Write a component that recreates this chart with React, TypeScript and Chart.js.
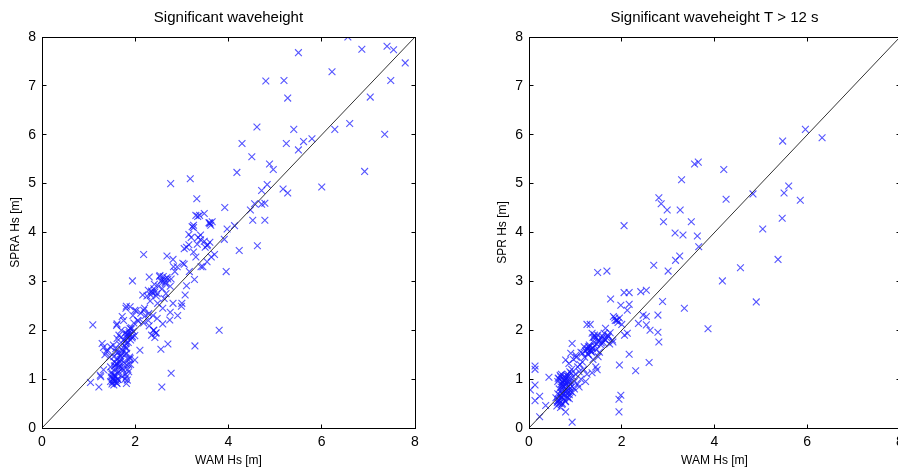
import React, { useEffect, useRef } from "react";
import { Chart, registerables } from "chart.js";

Chart.register(...registerables);

const FONT = "'Liberation Sans', Arial, Helvetica, sans-serif";

const leftTitle = "Significant waveheight";
const rightTitle = "Significant waveheight T > 12 s";
const xAxisLabel = "WAM Hs [m]";
const leftYAxisLabel = "SPRA Hs [m]";
const rightYAxisLabel = "SPR Hs [m]";

const xTickValues = [0, 2, 4, 6, 8];
const yTickValues = [0, 1, 2, 3, 4, 5, 6, 7, 8];
const diagonalValues = [0, 8];

// Left panel: WAM Hs (x) vs SPRA Hs (y)
const leftWam = [
  6.56, 5.5, 6.86, 7.4, 7.54, 7.79, 6.22, 4.8, 5.19, 7.48, 5.27, 7.04, 4.61, 6.6, 5.4, 6.28, 7.35, 4.29, 5.24, 5.61,
  5.79, 5.5, 4.5, 4.88, 4.96, 4.18, 6.92, 3.18, 2.76, 4.83, 6.0, 4.71, 5.17, 5.27, 3.32, 3.92, 4.56, 4.78, 4.71, 4.47,
  3.48, 3.34, 3.25, 3.6, 3.65, 4.52, 4.78, 4.13, 3.97, 3.15, 3.4, 3.91, 3.48, 3.6, 3.05, 4.23, 4.62, 3.33, 3.54, 2.68,
  3.3, 3.63, 2.81, 2.18, 3.54, 3.02, 2.82, 3.41, 3.95, 3.16, 1.94, 2.3, 2.53, 2.63, 2.77, 3.27, 3.1, 2.41, 2.16, 2.36,
  2.47, 2.66, 3.07, 2.28, 2.81, 3.0, 2.99, 1.81, 1.89, 2.59, 1.99, 2.18, 2.29, 2.75, 2.91, 1.72, 2.47, 2.74, 2.07, 2.18,
  2.59, 1.09, 2.3, 1.61, 1.89, 2.39, 3.8, 2.44, 1.82, 1.94, 1.99, 2.42, 1.61, 1.8, 1.29, 2.1, 2.55, 2.7, 3.28, 1.32,
  1.47, 1.39, 1.59, 1.82, 1.54, 1.68, 1.89, 1.99, 1.61, 1.82, 1.47, 1.72, 1.32, 1.86, 2.77, 1.25, 1.54, 1.81, 1.26, 1.54,
  1.04, 1.61, 1.81, 1.22, 2.57, 1.54, 1.47,
  1.5, 1.52, 1.55, 1.58, 1.5, 1.62, 1.65, 1.57, 1.6, 1.7, 1.75, 1.68, 1.78, 1.63, 1.72, 1.8, 1.85, 1.76, 1.82, 1.88,
  1.9, 1.86, 1.92, 1.7, 1.65, 1.6, 1.75, 1.8, 1.95, 2.02, 2.05, 1.97, 1.84, 1.79, 1.83, 1.78, 1.56, 1.45, 1.4, 1.35,
  1.53, 1.66, 1.48, 1.6, 1.85, 1.9, 1.72, 1.58,
  1.51, 1.53, 1.56, 1.59, 1.62, 1.64, 1.67, 1.69, 1.73, 1.77, 1.8, 1.83, 1.87, 1.91, 1.84, 1.81, 1.86, 1.88, 1.93, 1.96,
  1.55, 1.61, 1.66, 1.71, 1.74, 1.79, 1.49, 1.57, 1.63, 1.69,
  2.25, 2.35, 2.4, 2.5, 2.55, 2.6, 2.65, 2.7, 2.58, 2.45, 2.62, 2.75, 2.52, 2.32, 2.2, 2.38, 2.48, 2.28, 2.4, 2.45,
  2.35, 2.12, 2.22, 2.56, 2.64, 2.68, 2.42, 2.33,
  3.2, 3.25, 3.3, 3.38, 3.6, 3.62, 3.55, 3.5, 3.4, 3.1, 3.15, 3.25, 3.45, 3.7, 3.35, 3.05, 2.9, 2.85, 3.58, 3.22,
];
const leftSpra = [
  8.0, 7.68, 7.75, 7.81, 7.74, 7.47, 7.29, 7.1, 7.11, 7.11, 6.75, 6.77, 6.16, 6.23, 6.11, 6.11, 6.01, 5.82, 5.82, 5.86,
  5.92, 5.69, 5.55, 5.4, 5.29, 5.23, 5.25, 5.1, 5.0, 4.98, 4.93, 4.86, 4.89, 4.81, 4.69, 4.51, 4.59, 4.6, 4.58, 4.46,
  4.39, 4.33, 4.15, 4.2, 4.22, 4.25, 4.25, 4.14, 4.07, 3.96, 3.95, 3.86, 3.82, 3.8, 3.67, 3.63, 3.73, 3.76, 3.73, 3.52,
  3.5, 3.5, 3.45, 3.55, 3.4, 3.37, 3.3, 3.3, 3.2, 3.2, 3.01, 3.09, 3.12, 3.04, 3.05, 3.04, 2.91, 2.94, 2.72, 2.77,
  2.75, 2.75, 2.72, 2.82, 2.55, 2.55, 2.49, 2.49, 2.48, 2.45, 2.41, 2.41, 2.34, 2.37, 2.3, 2.28, 2.24, 2.21, 2.19, 2.15,
  2.13, 2.11, 2.09, 2.13, 2.04, 2.0, 2.0, 1.94, 1.91, 1.87, 1.89, 1.85, 1.83, 1.73, 1.73, 1.59, 1.61, 1.72, 1.68, 1.65,
  1.66, 1.56, 1.56, 1.53, 1.46, 1.46, 1.42, 1.39, 1.32, 1.29, 1.25, 1.22, 1.19, 1.15, 1.12, 1.08, 1.08, 1.05, 1.05, 0.98,
  0.93, 0.91, 0.91, 0.84, 0.84, 0.88, 0.95,
  0.9, 1.0, 0.95, 1.05, 1.1, 1.0, 1.15, 1.2, 1.3, 1.25, 1.35, 1.4, 1.5, 1.55, 1.6, 1.65, 1.75, 1.8, 1.85, 1.9,
  1.8, 2.0, 2.05, 2.0, 1.9, 2.1, 2.2, 2.45, 2.3, 2.4, 2.2, 2.15, 1.2, 1.1, 0.98, 1.0, 1.35, 1.45, 1.6, 1.5,
  1.7, 1.72, 1.05, 0.92, 1.4, 1.3, 1.05, 1.62,
  0.94, 1.02, 1.08, 0.97, 1.12, 1.24, 1.36, 1.48, 1.58, 1.68, 1.78, 1.88, 1.95, 2.02, 1.92, 1.62, 1.3, 1.45, 1.84, 1.98,
  1.27, 1.42, 1.33, 1.52, 1.18, 1.95, 1.14, 1.28, 0.99, 1.85,
  2.7, 2.8, 2.85, 2.9, 3.0, 3.1, 2.95, 3.05, 2.85, 2.7, 2.65, 2.9, 3.1, 2.6, 2.45, 2.3, 2.55, 2.2, 2.0, 1.95,
  1.9, 2.35, 2.3, 3.02, 2.98, 3.08, 2.78, 2.72,
  3.9, 4.1, 4.35, 4.35, 4.18, 4.15, 3.75, 3.7, 3.85, 3.7, 3.75, 3.6, 3.3, 3.55, 3.9, 3.35, 3.3, 3.2, 4.2, 4.12,
];

// Right panel: WAM Hs (x) vs SPR Hs (y), T > 12 s
const rightWam = [
  5.96, 5.47, 6.32, 3.57, 3.65, 4.2, 3.29, 2.8, 4.83, 5.6, 5.5, 2.85, 2.98, 3.26, 4.25, 5.85, 2.05, 2.9, 3.5, 5.46,
  5.04, 3.15, 3.32, 3.63, 3.66, 3.25, 3.16, 5.37, 2.69, 4.56, 3.0, 1.48, 1.68, 4.17, 1.76, 2.88, 4.9, 3.35, 2.05, 2.16,
  2.41, 2.53, 2.16, 2.12, 1.98, 2.46, 2.53, 2.78, 1.82, 1.89, 2.36, 2.53, 2.78, 2.61, 3.86, 2.8, 2.06, 2.12, 2.16, 2.59,
  1.95, 2.3, 1.98, 1.94, 1.94, 0.13, 0.13, 0.13, 0.13, 0.03, 0.23, 0.43, 0.36, 0.23, 0.93, 0.79, 1.25, 1.32, 1.36, 1.38,
  1.41, 1.57, 1.62, 1.65, 1.71, 1.8, 1.81, 1.28, 1.31, 1.36, 1.19, 1.15, 1.49, 1.44, 1.47, 1.36, 1.22, 1.08, 0.93, 1.01,
  0.9, 0.86, 0.79,
  0.6, 0.62, 0.65, 0.68, 0.7, 0.72, 0.75, 0.78, 0.8, 0.82, 0.85, 0.88, 0.9, 0.7, 0.65, 0.68, 0.72, 0.75, 0.8, 0.84,
  0.88, 0.92, 0.95, 0.98, 0.65, 0.62, 0.58, 0.75, 0.78, 0.83, 0.87, 0.93, 1.0, 1.05, 1.1, 1.02, 0.96, 0.72, 0.68, 0.8,
  0.76, 0.7, 0.62, 0.85, 0.9, 1.08, 1.15, 1.2, 1.12, 1.25, 1.3, 1.35, 1.28, 1.4, 1.45, 1.5, 1.55, 1.6, 1.65, 1.7,
  1.75, 1.9, 1.95, 1.85, 1.45, 1.52, 1.38, 1.18, 1.05, 0.98, 1.12, 1.25,
  0.61, 0.64, 0.67, 0.69, 0.71, 0.73, 0.74, 0.77, 0.79, 0.81, 0.83, 0.86, 0.89, 0.66, 0.7, 0.74, 0.78, 0.82, 0.86, 0.63,
  0.69, 0.76, 0.84, 0.91, 0.94, 0.71, 0.79, 0.87, 0.67, 0.73,
  1.22, 1.26, 1.3, 1.33, 1.37, 1.42, 1.46, 1.5, 1.56, 1.62, 1.27, 1.34, 1.41, 1.48, 1.58, 1.68, 1.74, 1.86, 1.92, 2.0,
];
const rightSpr = [
  6.11, 5.87, 5.94, 5.4, 5.44, 5.29, 5.08, 4.71, 4.79, 4.95, 4.81, 4.59, 4.46, 4.46, 4.68, 4.66, 4.14, 4.22, 4.22, 4.29,
  4.07, 3.99, 3.95, 3.93, 3.71, 3.52, 3.43, 3.45, 3.33, 3.28, 3.21, 3.18, 3.21, 3.01, 2.64, 2.59, 2.58, 2.45, 2.77, 2.77,
  2.79, 2.82, 2.53, 2.41, 2.51, 2.31, 2.28, 2.31, 2.28, 2.21, 2.14, 2.11, 1.96, 2.0, 2.03, 1.76, 1.9, 1.94, 1.51, 1.34,
  1.29, 1.17, 0.67, 0.59, 0.33, 1.27, 1.2, 0.88, 0.56, 0.78, 0.65, 1.04, 0.46, 0.23, 0.12, 0.33, 2.12, 2.12, 1.94, 1.85,
  1.9, 1.83, 1.94, 2.04, 1.87, 1.8, 1.76, 1.66, 1.59, 1.63, 1.66, 1.53, 1.46, 1.25, 1.19, 1.13, 0.95, 0.84, 1.73, 1.49,
  1.53, 1.32, 1.39,
  0.45, 0.55, 0.5, 0.6, 0.65, 0.7, 0.6, 0.75, 0.8, 0.7, 0.85, 0.9, 0.75, 0.9, 1.0, 1.05, 0.95, 1.05, 1.0, 1.1,
  1.15, 1.2, 1.05, 0.95, 0.8, 0.7, 0.62, 0.85, 0.55, 0.62, 0.68, 0.85, 1.1, 1.25, 1.3, 1.45, 1.4, 0.5, 0.42, 0.92,
  0.98, 1.1, 0.95, 1.0, 0.95, 1.15, 1.35, 1.45, 1.55, 1.6, 1.7, 1.55, 1.5, 1.75, 1.85, 1.8, 1.7, 1.75, 1.8, 1.9,
  1.95, 2.2, 2.25, 2.25, 1.6, 1.55, 1.4, 1.2, 0.9, 0.8, 1.0, 1.1,
  0.52, 0.58, 0.66, 0.72, 0.78, 0.84, 0.92, 0.98, 1.04, 1.08, 0.64, 0.74, 0.82, 0.56, 0.62, 0.68, 0.88, 0.76, 0.94, 1.02,
  0.84, 0.96, 1.06, 1.12, 0.72, 0.48, 0.54, 0.6, 1.08, 0.88,
  1.58, 1.62, 1.66, 1.6, 1.64, 1.68, 1.72, 1.78, 1.74, 1.82, 1.52, 1.56, 1.86, 1.9, 1.88, 1.84, 1.72, 2.2, 2.16, 2.12,
];

const zip = (xs: number[], ys: number[]) => xs.map((x, i) => ({ x, y: ys[i] }));

const boxTicksPlugin = {
  id: "boxTicks",
  afterDatasetsDraw(chart: any) {
    const { ctx, chartArea: a, scales } = chart;
    const L = Math.floor(a.left) + 0.5;
    const R = Math.floor(a.right) + 0.5;
    const T = Math.floor(a.top) + 0.5;
    const B = Math.floor(a.bottom) + 0.5;
    const len = 4;
    ctx.save();
    ctx.strokeStyle = "#000";
    ctx.lineWidth = 1;
    ctx.beginPath();
    for (const v of xTickValues) {
      const px = Math.floor(scales.x.getPixelForValue(v)) + 0.5;
      ctx.moveTo(px, B);
      ctx.lineTo(px, B - len);
      ctx.moveTo(px, T);
      ctx.lineTo(px, T + len);
    }
    for (const v of yTickValues) {
      const py = Math.floor(scales.y.getPixelForValue(v)) + 0.5;
      ctx.moveTo(L, py);
      ctx.lineTo(L + len, py);
      ctx.moveTo(R, py);
      ctx.lineTo(R - len, py);
    }
    ctx.stroke();
    ctx.strokeRect(L, T, R - L, B - T);
    ctx.restore();
  },
};

function makeConfig(
  title: string,
  yLabel: string,
  xs: number[],
  ys: number[],
  yAxisWidth: number,
  yTitlePad: number,
  rightPad: number
): any {
  return {
    type: "scatter",
    data: {
      datasets: [
        {
          type: "scatter",
          data: zip(xs, ys),
          pointStyle: "crossRot",
          pointRadius: 4.8,
          pointBorderWidth: 1.1,
          borderColor: "rgba(20,20,255,0.72)",
          backgroundColor: "rgba(20,20,255,0.72)",
          order: 2,
        },
        {
          type: "line",
          data: zip(diagonalValues, diagonalValues),
          borderColor: "#333",
          borderWidth: 1,
          pointRadius: 0,
          fill: false,
          order: 1,
        },
      ],
    },
    options: {
      responsive: false,
      animation: false,
      events: [],
      layout: { padding: { left: 0, right: rightPad, top: 0, bottom: 0 } },
      plugins: {
        legend: { display: false },
        tooltip: { enabled: false },
        title: {
          display: true,
          text: title,
          fullSize: false,
          color: "#000",
          font: { family: FONT, size: 15, weight: "normal", lineHeight: 1.2 },
          padding: { top: 9, bottom: 10 },
        },
      },
      scales: {
        x: {
          type: "linear",
          position: "bottom",
          min: 0,
          max: 8,
          afterBuildTicks: (s: any) => {
            s.ticks = xTickValues.map((v) => ({ value: v }));
          },
          afterFit: (s: any) => {
            s.height = 40;
          },
          ticks: {
            color: "#000",
            font: { family: FONT, size: 14, lineHeight: 1.2 },
            padding: 6,
            maxRotation: 0,
            autoSkip: false,
          },
          grid: { display: false, drawTicks: false },
          border: { display: false },
          title: {
            display: true,
            text: xAxisLabel,
            color: "#000",
            font: { family: FONT, size: 12, lineHeight: 1.2 },
            padding: { top: 0, bottom: 0 },
          },
        },
        y: {
          type: "linear",
          position: "left",
          min: 0,
          max: 8,
          afterBuildTicks: (s: any) => {
            s.ticks = yTickValues.map((v) => ({ value: v }));
          },
          afterFit: (s: any) => {
            s.width = yAxisWidth;
          },
          ticks: {
            color: "#000",
            font: { family: FONT, size: 14, lineHeight: 1.2 },
            padding: 6,
            autoSkip: false,
          },
          grid: { display: false, drawTicks: false },
          border: { display: false },
          title: {
            display: true,
            text: yLabel,
            color: "#000",
            font: { family: FONT, size: 12, lineHeight: 1.2 },
            padding: { top: yTitlePad, bottom: 0 },
          },
        },
      },
    },
    plugins: [boxTicksPlugin],
  };
}

function Panel(props: {
  left: number;
  width: number;
  title: string;
  yLabel: string;
  xs: number[];
  ys: number[];
  yAxisWidth: number;
  yTitlePad: number;
  rightPad: number;
}) {
  const ref = useRef<HTMLCanvasElement | null>(null);
  useEffect(() => {
    if (!ref.current) return;
    const chart = new Chart(
      ref.current,
      makeConfig(props.title, props.yLabel, props.xs, props.ys, props.yAxisWidth, props.yTitlePad, props.rightPad)
    );
    return () => chart.destroy();
  }, []);
  return (
    <canvas
      ref={ref}
      width={props.width}
      height={468}
      style={{ position: "absolute", left: props.left, top: 0, width: props.width, height: 468 }}
    />
  );
}

export default function App() {
  return (
    <div
      style={{
        position: "fixed",
        left: 0,
        top: 0,
        width: 898,
        height: 468,
        overflow: "hidden",
        background: "#fff",
      }}
    >
      <Panel
        left={0}
        width={449}
        title={leftTitle}
        yLabel={leftYAxisLabel}
        xs={leftWam}
        ys={leftSpra}
        yAxisWidth={42}
        yTitlePad={8}
        rightPad={34}
      />
      <Panel
        left={449}
        width={469}
        title={rightTitle}
        yLabel={rightYAxisLabel}
        xs={rightWam}
        ys={rightSpr}
        yAxisWidth={80}
        yTitlePad={46}
        rightPad={18}
      />
    </div>
  );
}
